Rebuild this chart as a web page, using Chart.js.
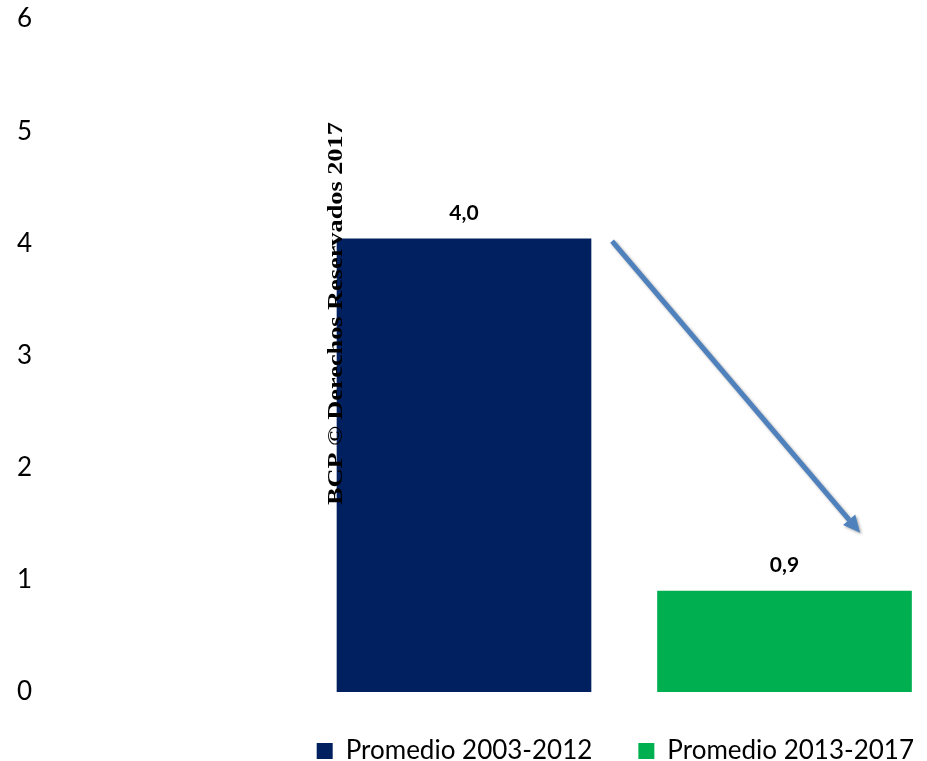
<!DOCTYPE html>
<html lang="es">
<head>
    <meta charset="UTF-8">
    <title>Promedio 2003-2012 vs 2013-2017</title>
    <script src="https://cdn.jsdelivr.net/npm/chart.js"></script>
    <style>
        body { margin: 0; background: #fff; }
        #wrap { width: 927px; height: 761px; position: relative; }
    </style>
</head>
<body>
    <div id="wrap"><canvas id="barChart"></canvas></div>
    <script>
        // values
        const categories = ['Promedio 2003-2012', 'Promedio 2013-2017'];
        const positions = [0, 1];
        const values = [4.04, 0.9];
        const colors = ['#002060', '#00B050'];
        const yTicks = [0, 1, 2, 3, 4, 5, 6];

        // arrow between the two bars, in data units (x, y)
        const arrowFrom = [0.462, 4.02];
        const arrowTo = [1.236, 1.42];

        // watermark, in data units: x of baseline, y from / to
        const watermarkText = 'BCP \u00A9 Derechos Reservados 2017';
        const watermarkX = -0.381;
        const watermarkY = [1.667, 5.08];

        const datasets = categories.map((name, i) => ({
            label: name,
            data: [{ x: positions[i], y: values[i] }],
            backgroundColor: colors[i],
            borderWidth: 0,
            barThickness: 254
        }));

        const valueLabels = {
            id: 'valueLabels',
            afterDatasetsDraw(chart) {
                const ctx = chart.ctx;
                ctx.save();
                ctx.font = 'bold 21px Lato';
                ctx.fillStyle = '#000';
                ctx.textAlign = 'center';
                ctx.textBaseline = 'alphabetic';
                chart.data.datasets.forEach((ds, i) => {
                    const meta = chart.getDatasetMeta(i);
                    meta.data.forEach((bar, j) => {
                        const v = ds.data[j].y;
                        ctx.fillText(v.toFixed(1).replace('.', ','), bar.x, bar.y - 19);
                    });
                });
                ctx.restore();
            }
        };

        const watermark = {
            id: 'watermark',
            afterDatasetsDraw(chart) {
                const { ctx, scales } = chart;
                const x = scales.x.getPixelForValue(watermarkX);
                const y0 = scales.y.getPixelForValue(watermarkY[0]);
                const y1 = scales.y.getPixelForValue(watermarkY[1]);
                ctx.save();
                ctx.font = 'bold 22px "Liberation Serif"';
                ctx.fillStyle = '#000';
                ctx.textBaseline = 'alphabetic';
                ctx.textAlign = 'left';
                const w = ctx.measureText(watermarkText).width;
                ctx.translate(x, y0);
                ctx.rotate(-Math.PI / 2);
                ctx.scale((y0 - y1) / w, 1);
                ctx.fillText(watermarkText, 0, 0);
                ctx.restore();
            }
        };

        const arrow = {
            id: 'arrow',
            afterDraw(chart) {
                const { ctx, scales } = chart;
                const x1 = scales.x.getPixelForValue(arrowFrom[0]);
                const y1 = scales.y.getPixelForValue(arrowFrom[1]);
                const x2 = scales.x.getPixelForValue(arrowTo[0]);
                const y2 = scales.y.getPixelForValue(arrowTo[1]);
                const ang = Math.atan2(y2 - y1, x2 - x1);
                const head = 17, half = 8;
                const bx = x2 - head * Math.cos(ang);
                const by = y2 - head * Math.sin(ang);
                ctx.save();
                ctx.shadowColor = 'rgba(0,0,0,0.35)';
                ctx.shadowBlur = 3;
                ctx.shadowOffsetX = 1.5;
                ctx.shadowOffsetY = 1.5;
                ctx.strokeStyle = '#4F81BD';
                ctx.fillStyle = '#4F81BD';
                ctx.lineWidth = 5;
                ctx.beginPath();
                ctx.moveTo(x1, y1);
                ctx.lineTo(bx, by);
                ctx.stroke();
                ctx.beginPath();
                ctx.moveTo(x2, y2);
                ctx.lineTo(bx + half * Math.sin(ang), by - half * Math.cos(ang));
                ctx.lineTo(bx - half * Math.sin(ang), by + half * Math.cos(ang));
                ctx.closePath();
                ctx.fill();
                ctx.restore();
            }
        };

        new Chart(document.getElementById('barChart'), {
            type: 'bar',
            data: { datasets: datasets },
            options: {
                responsive: true,
                maintainAspectRatio: false,
                animation: false,
                layout: {
                    padding: { left: 17, right: -33, top: 19, bottom: -13 }
                },
                scales: {
                    x: {
                        type: 'linear',
                        display: false,
                        stacked: true,
                        offset: false,
                        min: -0.4805,
                        max: 1.4446
                    },
                    y: {
                        min: 0,
                        max: 6,
                        afterFit: (axis) => { axis.width = 293; },
                        afterBuildTicks: (axis) => {
                            axis.ticks = yTicks.map(v => ({ value: v }));
                        },
                        grid: { display: false },
                        border: { display: false },
                        ticks: {
                            crossAlign: 'far',
                            color: '#000',
                            font: { family: 'Lato', size: 26 }
                        }
                    }
                },
                plugins: {
                    legend: {
                        position: 'bottom',
                        align: 'end',
                        labels: {
                            boxWidth: 16,
                            boxHeight: 16,
                            padding: 46,
                            color: '#000',
                            font: { family: 'Lato', size: 26 }
                        }
                    },
                    tooltip: { enabled: false }
                }
            },
            plugins: [valueLabels, watermark, arrow]
        });
    </script>
</body>
</html>
